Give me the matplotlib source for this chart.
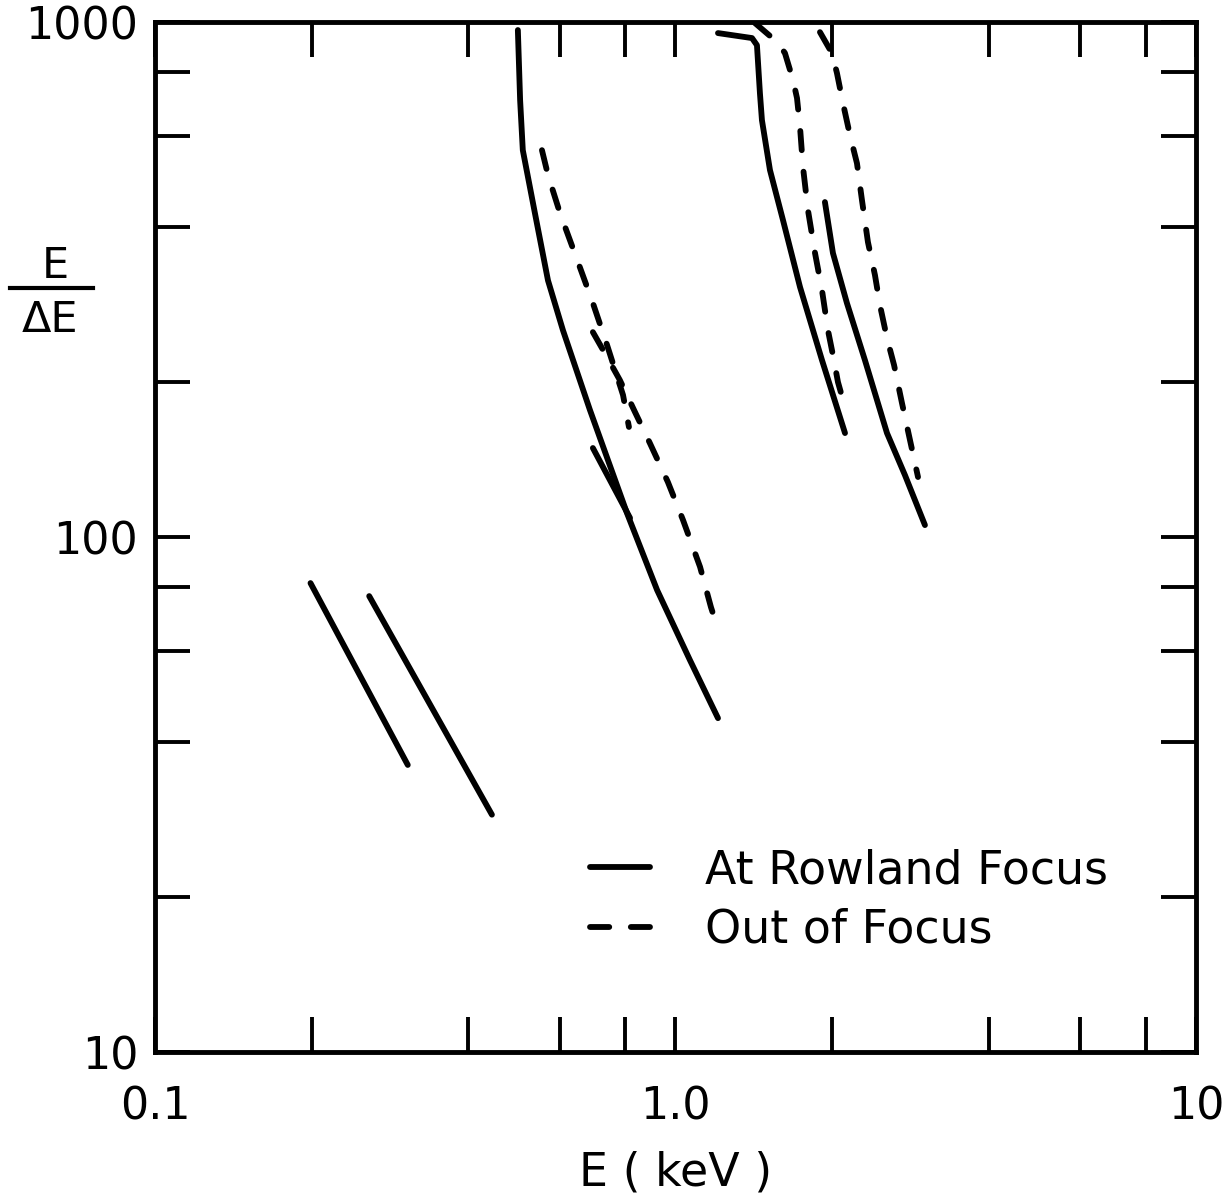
import numpy as np
import matplotlib.pyplot as plt
from matplotlib.ticker import FixedLocator, FixedFormatter, NullLocator

# resolving power E/dE vs photon energy (keV)
# at Rowland focus (solid)
a_e = [0.199, 0.306]
a_r = [81.4, 36.1]

b_e = [0.258, 0.444]
b_r = [76.8, 28.9]

c_e = [0.498, 0.503, 0.509, 0.537, 0.569, 0.608, 0.685, 0.807, 0.922, 1.066, 1.207]
c_r = [965, 705, 564, 425.7, 315.0, 252.0, 176.5, 111.3, 78.9, 57.7, 44.5]

d_e = [0.694, 0.818]
d_r = [148.9, 108.9]

g_e = [1.207, 1.403, 1.434, 1.453, 1.466, 1.519, 1.609, 1.735, 1.912, 2.117]
g_r = [952, 931, 902, 728, 645, 516, 412.6, 305.8, 220.6, 159.2]

i_e = [1.937, 2.007, 2.135, 2.312, 2.549, 2.760, 3.015]
i_r = [447.2, 356.0, 284.7, 220.6, 159.2, 131.9, 105.5]

# out of focus (dashed)
e_e = [0.554, 0.569, 0.600, 0.655, 0.694, 0.739, 0.793, 0.814]
e_r = [564, 504.6, 425.7, 334.4, 284.7, 235.9, 188.7, 163.6]

f_e = [0.694, 0.739, 0.782, 0.836, 0.893, 0.967, 1.034, 1.115, 1.170, 1.212]
f_r = [250.0, 223.6, 201.7, 174.9, 152.2, 127.9, 107.9, 87.5, 73.1, 65.4]

h_e = [1.421, 1.567, 1.623, 1.682, 1.712, 1.735, 1.758, 1.797, 1.854, 1.912, 1.963, 2.007, 2.052, 2.117]
h_r = [996, 915, 870.6, 771.8, 711.8, 625.4, 522.9, 431.5, 356.0, 301.7, 252.3, 225.6, 200.0, 178.8]

j_e = [1.895, 1.998, 2.043, 2.098, 2.164, 2.232, 2.282, 2.343, 2.417, 2.471, 2.549, 2.630, 2.724, 2.822, 2.924]
j_r = [956, 870.6, 796, 696, 603, 532, 451, 374, 322.6, 282.1, 243.4, 215.8, 182.0, 154.3, 130.8]

solid = [(a_e, a_r), (b_e, b_r), (c_e, c_r), (d_e, d_r), (g_e, g_r), (i_e, i_r)]
dashed = [(e_e, e_r), (f_e, f_r), (h_e, h_r), (j_e, j_r)]

x_ticks = [0.1, 0.2, 0.4, 0.6, 0.8, 1, 2, 4, 6, 8, 10]
x_labels = ["0.1", "", "", "", "", "1.0", "", "", "", "", "10"]
y_ticks = [10, 20, 40, 60, 80, 100, 200, 400, 600, 800, 1000]
y_labels = ["10", "", "", "", "", "100", "", "", "", "", "1000"]

plt.rcParams['font.family'] = 'DejaVu Sans'
fig = plt.figure(figsize=(12.22, 12.0), dpi=100)
ax = fig.add_axes([0.1268, 0.1233, 0.8519, 0.8583])
ax.set_xscale('log')
ax.set_yscale('log')
ax.set_xlim(0.1, 10)
ax.set_ylim(10, 1000)

lw = 4.2
for k, (e, r) in enumerate(solid):
    ax.plot(e, r, color='black', lw=lw, solid_capstyle='round', solid_joinstyle='round',
            label='At Rowland Focus' if k == 0 else None)
for k, (e, r) in enumerate(dashed):
    ax.plot(e, r, color='black', lw=lw, ls=(0, (3.3, 3.7)), dash_capstyle='round',
            label='Out of Focus' if k == 0 else None)

for s in ax.spines.values():
    s.set_linewidth(3.5)

ax.xaxis.set_major_locator(FixedLocator(x_ticks))
ax.xaxis.set_major_formatter(FixedFormatter(x_labels))
ax.xaxis.set_minor_locator(NullLocator())
ax.yaxis.set_major_locator(FixedLocator(y_ticks))
ax.yaxis.set_major_formatter(FixedFormatter(y_labels))
ax.yaxis.set_minor_locator(NullLocator())
ax.tick_params(which='major', direction='in', length=25, width=2.8,
               top=True, right=True, labelsize=32)
ax.tick_params(axis='x', pad=24)
ax.tick_params(axis='y', pad=12)

ax.set_xlabel('E ( keV )', fontsize=33, labelpad=16)

# E / dE fraction on the left
fig.text(55 / 1222, 1 - 266 / 1200, 'E', fontsize=31, ha='center', va='center')
fig.text(50 / 1222, 1 - 320 / 1200, '\u0394E', fontsize=31, ha='center', va='center')
fig.add_artist(plt.Line2D([10 / 1222, 93 / 1222], [1 - 288 / 1200, 1 - 288 / 1200],
                          color='black', lw=3, transform=fig.transFigure))

ax.legend(loc='upper left', bbox_to_anchor=(0.418, 0.198), frameon=False,
          fontsize=33, handlelength=1.3, handletextpad=1.2, labelspacing=0.32,
          borderpad=0, borderaxespad=0)

fig.savefig('out.png', dpi=100, facecolor='white')
